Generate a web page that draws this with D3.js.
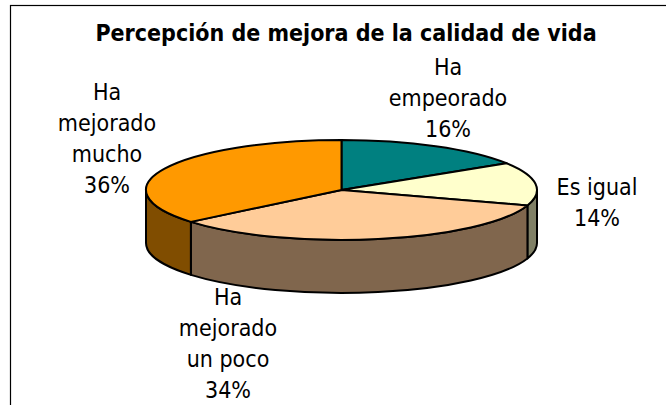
<!DOCTYPE html>
<html><head><meta charset="utf-8">
<script src="https://cdn.jsdelivr.net/npm/d3@7"></script>
<style>html,body{margin:0;padding:0;background:#fff}svg{display:block}
text{font-family:"DejaVu Sans Condensed","DejaVu Sans",sans-serif;fill:#000}</style>
</head><body><svg id="c" width="666" height="405"></svg>
<script>
const categories=["Ha empeorado","Es igual","Ha mejorado un poco","Ha mejorado mucho"];
const values=[16,14,34,36];
const topColors=["#008080","#FFFFCC","#FFCC99","#FF9900"];
const sideColors=["#004040","#808066","#80664D","#804D00"];
const labelLines=[["Ha","empeorado","16%"],["Es igual","14%"],["Ha","mejorado","un poco","34%"],["Ha","mejorado","mucho","36%"]];
const labelAnchors=[[448,75],[597,195],[228,305],[107,100]];
const titleText="Percepción de mejora de la calidad de vida";

const svg=d3.select("#c");
const x=d3.scaleLinear().domain([-1,1]).range([146,537]);
const y=d3.scaleLinear().domain([-1,1]).range([140,240]);
const depth=53;
const rx=x(1)-x(0), ry=y(1)-y(0);
const px=a=>x(Math.sin(a)), py=a=>y(-Math.cos(a));

svg.append("rect").attr("x",10.5).attr("y",5.5).attr("width",700).attr("height",500)
  .attr("fill","#fff").attr("stroke","#000").attr("stroke-width",1.2);

const arcs=d3.pie().sort(null).value(d=>d)(values);
const ellipseArc=(a0,a1,dy,sweep)=>`A${rx},${ry} 0 ${Math.abs(a1-a0)>Math.PI?1:0} ${sweep} ${px(a1)},${py(a1)+dy}`;

const g=svg.append("g").attr("stroke","#000").attr("stroke-width",2).attr("stroke-linejoin","round");
arcs.forEach((d,i)=>{
  const a0=Math.max(d.startAngle,Math.PI/2), a1=Math.min(d.endAngle,3*Math.PI/2);
  if(a1<=a0) return;
  g.append("path").attr("fill",sideColors[i])
   .attr("d",`M${px(a0)},${py(a0)}${ellipseArc(a0,a1,0,1)}L${px(a1)},${py(a1)+depth}${ellipseArc(a1,a0,depth,0)}Z`);
});
arcs.forEach((d,i)=>{
  g.append("path").attr("fill",topColors[i])
   .attr("d",`M${x(0)},${y(0)}L${px(d.startAngle)},${py(d.startAngle)}${ellipseArc(d.startAngle,d.endAngle,0,1)}Z`);
});

svg.append("text").attr("x",346).attr("y",41).attr("text-anchor","middle")
  .attr("font-size",23).attr("font-weight","bold").text(titleText);

labelLines.forEach((lines,i)=>{
  const t=svg.append("text").attr("text-anchor","middle").attr("font-size",23);
  lines.forEach((l,j)=>t.append("tspan").attr("x",labelAnchors[i][0]).attr("y",labelAnchors[i][1]+j*31).text(l));
});
</script></body></html>
